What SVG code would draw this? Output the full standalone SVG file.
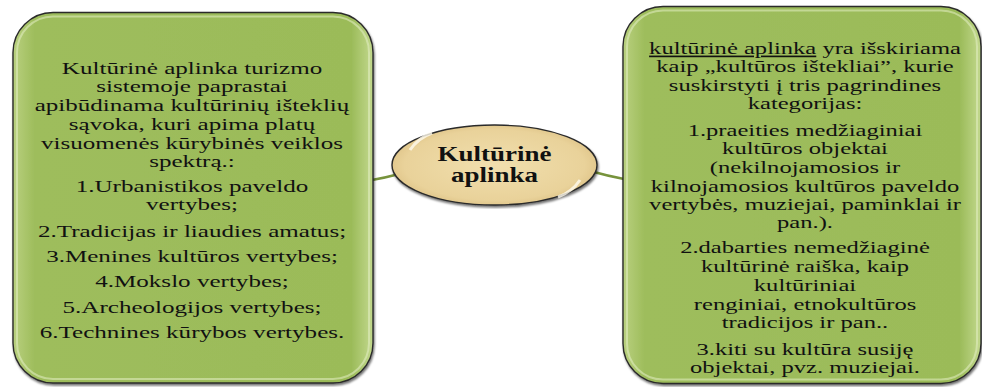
<svg xmlns="http://www.w3.org/2000/svg" width="982" height="387" viewBox="0 0 982 387">
<defs>
<linearGradient id="boxg" x1="0" y1="0" x2="1" y2="0">
<stop offset="0" stop-color="#B9D07F"/>
<stop offset="0.06" stop-color="#9EBD5C"/>
<stop offset="0.94" stop-color="#9BBB59"/>
<stop offset="1" stop-color="#C3D98E"/>
</linearGradient>
<radialGradient id="ellg" cx="0.5" cy="0.5" r="0.55">
<stop offset="0" stop-color="#F1DFAE"/>
<stop offset="0.8" stop-color="#E9D29A"/>
<stop offset="1" stop-color="#DCC083"/>
</radialGradient>
<filter id="sh" x="-5%" y="-5%" width="110%" height="110%">
<feDropShadow dx="1" dy="2" stdDeviation="1.2" flood-color="#000" flood-opacity="0.55"/>
</filter>
</defs>
<style>
.box{fill:url(#boxg);stroke:#2B2B2B;stroke-width:1.4;}
.hl{fill:none;stroke:#E4EFC4;stroke-width:2;opacity:0.55;}
.t{font-family:"Liberation Serif","Times New Roman",serif;font-size:16.5px;fill:#111;text-anchor:middle;}
.c{font-family:"Liberation Serif","Times New Roman",serif;font-size:20px;font-weight:bold;fill:#111;text-anchor:middle;}
.conn{fill:none;stroke:#77933C;stroke-width:2.5;}
</style>

<g id="connectors">
<path class="conn" d="M372,180 Q384,178 395,175"/>
<path class="conn" d="M594,172 Q608,176 624,179"/>
</g>

<g id="left-node">
<rect class="box" x="13" y="12.5" width="360" height="370.5" rx="40" ry="40" filter="url(#sh)"/>
<rect class="hl" x="17" y="16.5" width="352" height="362.5" rx="36" ry="36"/>
<g transform="translate(192 0) scale(1.52 1)">
<text class="t" x="0" y="74">Kultūrinė aplinka turizmo</text>
<text class="t" x="0" y="92">sistemoje paprastai</text>
<text class="t" x="0" y="111.5">apibūdinama kultūrinių išteklių</text>
<text class="t" x="0" y="130.5">sąvoka, kuri apima platų</text>
<text class="t" x="0" y="149">visuomenės kūrybinės veiklos</text>
<text class="t" x="0" y="167">spektrą.:</text>
<text class="t" x="0" y="192.5">1.Urbanistikos paveldo</text>
<text class="t" x="0" y="210">vertybes;</text>
<text class="t" x="0" y="237">2.Tradicijas ir liaudies amatus;</text>
<text class="t" x="0" y="262.5">3.Menines kultūros vertybes;</text>
<text class="t" x="0" y="287.5">4.Mokslo vertybes;</text>
<text class="t" x="0" y="313">5.Archeologijos vertybes;</text>
<text class="t" x="0" y="338.5">6.Technines kūrybos vertybes.</text>
</g>
</g>

<g id="center-node">
<ellipse cx="494.5" cy="165" rx="102.5" ry="40" fill="url(#ellg)" stroke="#2B2B2B" stroke-width="1.4" filter="url(#sh)"/>
<path d="M410,150 Q418,138 432,133" fill="none" stroke="#FFFBEF" stroke-width="3" opacity="0.8"/>
<path d="M580,180 Q572,192 558,197" fill="none" stroke="#FFFBEF" stroke-width="3" opacity="0.8"/>
<g transform="translate(494.5 0) scale(1.35 1)">
<text class="c" x="0" y="161.5">Kultūrinė</text>
<text class="c" x="0" y="182">aplinka</text>
</g>
</g>

<g id="right-node">
<rect class="box" x="623" y="6.5" width="358" height="377" rx="40" ry="40" filter="url(#sh)"/>
<rect class="hl" x="627" y="10.5" width="350" height="369" rx="36" ry="36"/>
<g transform="translate(805 0) scale(1.49 1)">
<text class="t" x="0" y="54"><tspan text-decoration="underline">kultūrinė aplinka</tspan> yra išskiriama</text>
<text class="t" x="0" y="72">kaip „kultūros ištekliai”, kurie</text>
<text class="t" x="0" y="91">suskirstyti į tris pagrindines</text>
<text class="t" x="0" y="109.5">kategorijas:</text>
<text class="t" x="0" y="136.5">1.praeities medžiaginiai</text>
<text class="t" x="0" y="154.5">kultūros objektai</text>
<text class="t" x="0" y="173.5">(nekilnojamosios ir</text>
<text class="t" x="0" y="192.5">kilnojamosios kultūros paveldo</text>
<text class="t" x="0" y="210">vertybės, muziejai, paminklai ir</text>
<text class="t" x="0" y="228">pan.).</text>
<text class="t" x="0" y="253">2.dabarties nemedžiaginė</text>
<text class="t" x="0" y="272.5">kultūrinė raiška, kaip</text>
<text class="t" x="0" y="291.5">kultūriniai</text>
<text class="t" x="0" y="310">renginiai, etnokultūros</text>
<text class="t" x="0" y="328">tradicijos ir pan..</text>
<text class="t" x="0" y="355.5">3.kiti su kultūra susiję</text>
<text class="t" x="0" y="373">objektai, pvz. muziejai.</text>
</g>
</g>
</svg>
